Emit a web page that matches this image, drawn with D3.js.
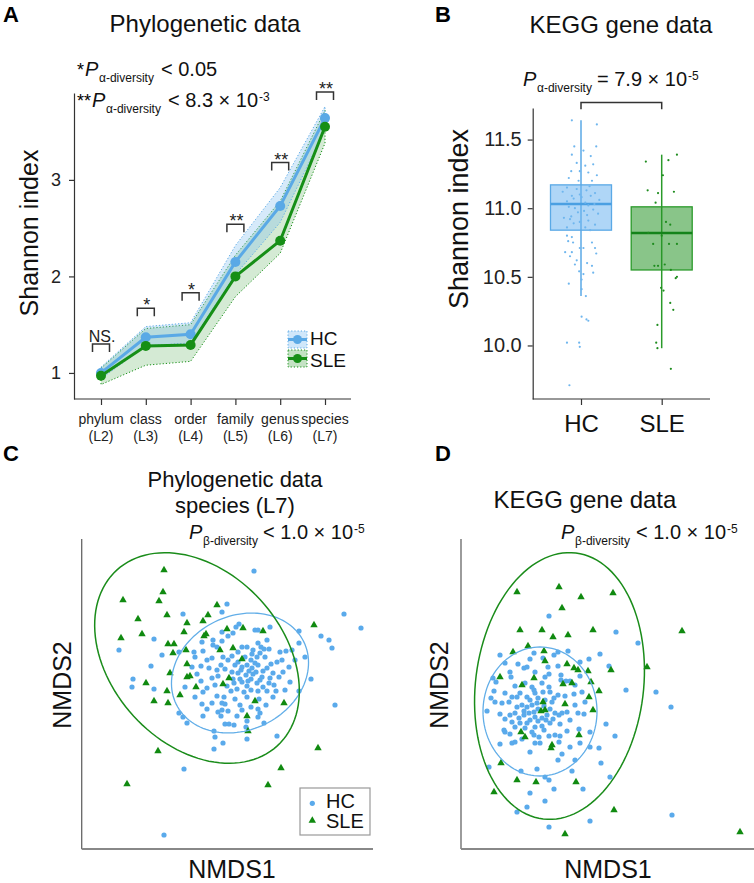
<!DOCTYPE html>
<html>
<head>
<meta charset="utf-8">
<script src="https://cdn.jsdelivr.net/npm/d3@7"></script>
<style>
body { margin: 0; background: #fff; }
svg { font-family: "Liberation Sans", Arial, sans-serif; }
</style>
</head>
<body>
<svg id="fig" width="754" height="883"></svg>
<script>
// ---- panel A : alpha diversity by taxonomic level
var levels = ["phylum", "class", "order", "family", "genus", "species"];
var levelCodes = ["(L2)", "(L3)", "(L4)", "(L5)", "(L6)", "(L7)"];
var hcMean = [1.00, 1.37, 1.40, 2.15, 2.73, 3.64];
var sleMean = [0.97, 1.28, 1.29, 2.00, 2.37, 3.55];
var hcLow = [0.94, 1.28, 1.31, 2.02, 2.56, 3.52];
var hcHigh = [1.06, 1.48, 1.52, 2.32, 2.92, 3.76];
var sleLow = [0.88, 1.08, 1.12, 1.79, 2.24, 3.38];
var sleHigh = [1.05, 1.46, 1.50, 2.22, 2.78, 3.72];
var sigLabels = ["NS.", "*", "*", "**", "**", "**"];
var sigTop = [1.30, 1.67, 1.83, 2.54, 3.18, 3.91];

// ---- panel B : KEGG shannon box plot
var boxGroups = ["HC", "SLE"];
var boxQ1 = [10.84, 10.55];
var boxMed = [11.03, 10.82];
var boxQ3 = [11.17, 11.01];
var whiskLo = [10.36, 9.98];
var whiskHi = [11.64, 11.39];
// [shannon, jitter offset as share of box width]
var hcKegg = [[11.64,-0.15],[11.61,0.26],[11.45,-0.11],[11.42,0.04],[11.45,0.25],[11.39,-0.15],[11.38,0.16],[11.33,-0.07],
  [11.31,0.07],[11.32,0.20],[11.27,-0.16],[11.27,-0.02],[11.26,0.12],[11.22,-0.20],[11.24,0.26],[11.20,-0.04],[11.20,0.18],
  [11.15,-0.23],[11.14,-0.07],[11.13,0.09],[11.11,0.23],[11.09,-0.15],[11.08,0.01],[11.09,0.16],[11.05,-0.23],[11.04,0.07],
  [11.00,-0.10],[10.99,0.20],[10.92,-0.18],[10.90,-0.02],[10.91,0.12],[10.88,0.23],[10.86,-0.23],[10.86,0.07],[10.80,-0.23],
  [10.79,-0.15],[10.76,-0.21],[10.75,0.18],[10.75,-0.13],[10.71,-0.02],[10.71,0.04],[10.71,0.23],[10.68,-0.26],[10.68,-0.15],
  [10.67,0.25],[10.65,-0.18],[10.62,-0.07],[10.60,0.10],[10.59,-0.10],[10.58,0.18],[10.54,-0.03],[10.53,0.20],[10.52,0.04],
  [10.48,0.01],[10.45,-0.20],[10.41,0.01],[10.36,0.08],[10.21,0.01],[10.19,0.09],[10.18,0.12],[10.02,-0.23],[10.02,-0.03],
  [9.99,-0.02],[9.71,-0.19],[11.12,-0.30],[11.06,0.30],[10.97,-0.05],[10.95,0.10],[10.93,-0.28],[10.96,0.28],[11.02,0.12],
  [11.10,-0.02],[10.89,-0.12],[10.84,0.15],[11.16,0.14],[11.01,-0.20],[11.07,-0.12],[10.98,0.05],[10.94,-0.16],[11.03,0.22]];
var sleKegg = [[11.34,-0.26],[11.35,0.11],[11.39,0.25],[11.24,0.02],[11.13,-0.23],[11.11,-0.06],[11.12,0.20],[11.04,-0.10],
  [10.90,0.07],[10.88,0.14],[10.82,-0.22],[10.80,0.00],[10.74,-0.14],[10.74,0.12],[10.74,0.25],[10.58,-0.06],[10.58,-0.12],
  [10.59,0.05],[10.55,0.15],[10.50,0.25],[10.49,0.23],[10.42,-0.01],[10.40,0.03],[10.31,0.14],[10.26,0.19],[10.15,-0.07],
  [10.02,-0.09],[9.98,-0.07],[9.83,0.15]];

// ---- panel C : NMDS species (L7)  [NMDS1, NMDS2]
var hcC = [[0.27,1.21],[0.00,0.88],[-0.05,0.80],[-0.44,0.78],[1.17,0.78],[1.34,0.64],[-0.73,0.53],[-1.08,0.42],[-0.65,0.37],
  [-0.76,0.26],[-0.94,0.13],[-0.95,0.05],[-0.73,0.03],[0.94,0.56],[1.02,0.52],[1.05,0.44],[0.72,0.61],[0.43,0.65],[0.28,0.62],
  [0.31,0.62],[0.12,0.68],[0.09,0.65],[0.06,0.59],[0.01,0.56],[0.40,0.52],[0.31,0.49],[0.72,0.49],[0.53,0.40],[0.59,0.41],
  [0.78,0.35],[0.68,0.32],[0.62,0.25],[0.56,0.20],[0.84,0.13],[0.58,0.02],[-0.14,0.52],[-0.05,0.51],[-0.14,0.47],[-0.10,0.45],
  [-0.25,0.50],[-0.24,0.41],[-0.33,0.40],[-0.48,0.40],[-0.32,0.35],[-0.35,0.25],[-0.26,0.26],[-0.20,0.32],[-0.15,0.34],
  [-0.04,0.35],[0.01,0.32],[0.11,0.40],[0.20,0.45],[0.26,0.42],[0.34,0.45],[0.37,0.43],[0.42,0.43],[0.24,0.32],[0.30,0.35],
  [0.38,0.35],[0.08,0.27],[0.15,0.25],[0.20,0.27],[0.25,0.24],[0.31,0.27],[0.40,0.24],[0.44,0.28],[0.50,0.30],[-0.10,0.22],
  [-0.02,0.23],[0.05,0.20],[0.11,0.19],[0.19,0.17],[0.26,0.18],[0.35,0.15],[0.43,0.14],[-0.15,0.14],[-0.09,0.16],[-0.26,0.11],
  [-0.20,0.04],[-0.12,0.07],[0.07,0.09],[0.15,0.10],[0.21,0.11],[0.30,0.09],[0.42,0.09],[0.04,0.01],[0.10,0.03],[0.17,0.00],
  [0.24,0.02],[0.31,0.01],[0.40,0.01],[0.49,0.01],[-0.24,0.00],[-0.32,-0.05],[-0.03,-0.05],[-0.10,-0.04],[-0.25,-0.12],
  [-0.15,-0.11],[-0.05,-0.11],[-0.02,-0.12],[0.13,-0.13],[0.24,-0.15],[0.31,-0.17],[0.39,-0.13],[-0.09,-0.20],[-0.05,-0.18],
  [0.01,-0.19],[0.15,-0.18],[0.33,-0.21],[-0.48,-0.21],[-0.44,-0.25],[-0.40,-0.31],[-0.24,-0.24],[-0.06,-0.24],[0.31,-0.25],
  [-0.02,-0.32],[0.02,-0.32],[0.07,-0.33],[0.19,-0.35],[0.37,-0.31],[0.20,-0.29],[-0.13,-0.39],[-0.12,-0.45],[-0.04,-0.51],
  [-0.13,-0.57],[0.20,-0.47],[0.50,-0.44],[1.08,-0.13],[0.72,0.01],[-0.43,-0.77],[-0.63,-1.43],
  [0.11,0.30],[0.18,0.35],[0.25,0.38],[0.33,0.39],[0.14,0.22],[0.22,0.21],[0.29,0.20],[0.36,0.21],[0.06,0.13],[0.13,0.13],
  [0.24,0.13],[0.33,0.12],[0.46,0.19],[0.52,0.15],[0.47,0.07],[0.36,0.05],[0.20,0.06],[0.00,0.06],[-0.06,0.27],[-0.18,0.24],
  [0.05,0.36],[0.15,0.45],[0.28,0.29],[0.55,0.32],[0.63,0.10],[-0.30,0.18],[-0.42,0.05],[0.08,-0.07],[0.20,-0.05],
  [0.32,-0.07],[-0.20,-0.17],[0.10,-0.24],[0.46,-0.05],[0.65,0.42],[-0.05,0.60]];
var sleC = [[-0.63,1.22],[-0.64,1.00],[-1.04,0.92],[-0.68,0.91],[-0.10,0.87],[-0.60,0.77],[-0.19,0.77],[-0.89,0.73],
  [-0.40,0.69],[-0.24,0.71],[-0.43,0.60],[-0.85,0.58],[0.00,0.63],[0.16,0.64],[0.36,0.61],[0.87,0.67],[-1.06,0.54],
  [-0.21,0.58],[-0.23,0.56],[-0.59,0.48],[-0.53,0.48],[-0.41,0.42],[-0.54,0.39],[-0.07,0.42],[0.06,0.44],[0.15,0.33],
  [-0.40,0.28],[-0.57,0.19],[-0.40,0.15],[-0.37,0.16],[0.02,0.14],[-0.81,0.09],[-0.31,0.05],[-0.04,0.08],[-0.60,0.01],
  [-0.47,-0.03],[-0.73,-0.09],[-0.59,-0.11],[0.28,-0.09],[0.57,-0.11],[0.20,-0.24],[0.21,-0.39],[-0.69,-0.59],[0.91,-0.56],
  [0.54,-0.76],[-1.00,-0.92],[0.41,-0.93]];
// ellipse: [centre NMDS1, centre NMDS2, semi-major, semi-minor, angle deg]
var ellHcC = [0.13, 0.19, 0.71, 0.57, 26];
var ellSleC = [-0.30, 0.34, 1.19, 0.86, -47.6];

// ---- panel D : NMDS KEGG genes
var hcD = [[-0.51,0.76],[0.16,0.60],[0.38,0.49],[0.56,0.00],[0.26,0.02],[-1.00,0.37],[-0.95,0.29],[-0.82,0.28],[-0.76,0.24],
  [-0.73,0.25],[-0.70,0.33],[-0.66,0.39],[-0.57,0.34],[-0.52,0.25],[-0.46,0.37],[-0.42,0.40],[-0.32,0.41],[-0.42,0.26],
  [-0.11,0.33],[0.00,0.38],[0.09,0.26],[-0.39,0.17],[-0.55,0.15],[-0.51,0.18],[-0.89,0.15],[-1.07,0.14],[-1.04,0.10],
  [-0.85,0.06],[-0.75,0.09],[-0.68,0.05],[-0.58,0.09],[-0.51,0.05],[-0.39,0.12],[-0.34,0.11],[-0.30,0.11],[-0.25,0.07],
  [-0.18,0.00],[-1.06,0.01],[-0.95,-0.01],[-0.80,-0.01],[-0.66,0.02],[-0.65,-0.01],[-0.57,0.00],[-0.50,0.00],[-0.42,-0.03],
  [-0.26,-0.02],[-0.88,-0.05],[-0.83,-0.05],[-0.73,-0.05],[-1.09,-0.06],[-1.13,-0.19],[-1.05,-0.10],[-0.98,-0.11],
  [-0.91,-0.10],[-0.83,-0.15],[-0.78,-0.13],[-0.73,-0.15],[-0.68,-0.13],[-0.63,-0.11],[-0.90,-0.23],[-0.85,-0.21],
  [-0.81,-0.26],[-0.76,-0.23],[-0.71,-0.21],[-0.66,-0.20],[-0.65,-0.25],[-0.58,-0.26],[-0.53,-0.23],[-0.50,-0.31],
  [-0.45,-0.21],[-0.41,-0.23],[-0.38,-0.21],[-0.33,-0.20],[-0.25,-0.13],[-0.22,-0.21],[-0.16,-0.22],[-0.95,-0.27],
  [-0.88,-0.30],[-0.80,-0.31],[-0.73,-0.31],[-0.65,-0.35],[-0.58,-0.34],[-0.56,-0.38],[-0.96,-0.38],[-0.95,-0.40],
  [-0.68,-0.40],[-0.66,-0.43],[-0.61,-0.45],[-0.51,-0.44],[-0.45,-0.43],[-0.40,-0.44],[-0.33,-0.39],[-0.21,-0.37],
  [-0.10,-0.40],[0.06,-0.32],[0.15,-0.44],[-0.88,-0.51],[-0.85,-0.50],[-0.65,-0.51],[-0.60,-0.51],[-0.41,-0.50],
  [-0.20,-0.51],[-0.10,-0.55],[-0.01,-0.56],[-0.38,-0.62],[-0.42,-0.68],[-0.25,-0.68],[0.01,-0.71],[-1.11,-0.75],
  [-0.79,-0.79],[-0.63,-0.77],[-0.28,-0.79],[-0.55,-0.85],[-0.51,-0.88],[0.10,-0.85],[-0.46,-0.97],[-0.70,-1.01],
  [-0.17,-0.97],[-0.55,-1.09],[-0.73,-1.15],[-0.83,-1.20],[-0.10,-1.29],[-0.51,-1.35],[0.71,-0.15],[0.72,-1.23],
  [-0.70,-0.08],[-0.62,-0.06],[-0.55,-0.08],[-0.48,-0.10],[-0.76,-0.19],[-0.62,-0.17],[-0.56,-0.14],[-0.50,-0.17],
  [-0.70,-0.28],[-0.62,-0.29],[-0.54,-0.28],[-0.47,-0.27],[-0.85,-0.35],[-0.75,-0.36],[-0.40,-0.32],[-0.30,-0.28],
  [-1.00,-0.22],[-0.90,-0.42],[-0.78,-0.47],[-0.46,-0.06],[-0.35,-0.04],[-0.90,0.20],[-0.65,0.20],[-0.20,0.16],
  [-0.15,-0.10],[-0.30,-0.55],[-0.70,-0.60],[-1.00,-0.52],[-0.20,0.30]];
var sleD = [[-0.83,1.00],[-0.41,1.05],[-0.19,0.95],[0.13,0.99],[-0.38,0.84],[-0.80,0.62],[-0.58,0.62],[-0.47,0.55],
  [-0.32,0.57],[-0.07,0.62],[0.82,0.61],[-0.87,0.40],[-0.72,0.46],[-0.56,0.41],[-0.55,0.31],[-0.33,0.28],[-0.26,0.24],
  [-0.22,0.22],[-0.12,0.21],[0.11,0.22],[0.47,0.25],[-1.00,0.15],[-0.66,0.14],[-0.78,0.07],[-0.37,0.08],[-0.28,0.09],
  [-0.09,0.10],[-0.01,0.01],[-0.11,-0.05],[-0.57,-0.10],[-0.59,-0.19],[-0.55,-0.18],[-0.35,-0.12],[-0.07,-0.18],
  [-0.79,-0.40],[-0.75,-0.45],[-0.21,-0.43],[-0.48,-0.53],[-0.49,-0.56],[-0.99,-0.71],[-0.83,-0.88],[-0.64,-0.90],
  [-0.24,-0.90],[-1.06,-1.00],[0.14,-1.18],[-0.35,-1.42],[1.40,-1.40]];
var ellHcD = [-0.60, -0.195, 0.645, 0.57, 90];
var ellSleD = [-0.405, 0.06, 1.34, 0.84, 83];

var BLUE = "#5aa9e6", GREEN = "#168f16", AXIS = "#333";
var svg = d3.select("#fig");

function panelLabel(txt, x, y) {
  svg.append("text").attr("x", x).attr("y", y).attr("font-size", 22).attr("font-weight", "bold").text(txt);
}
function title(txt, x, y, size) {
  return svg.append("text").attr("x", x).attr("y", y).attr("text-anchor", "middle").attr("font-size", size || 24).attr("fill", "#111").text(txt);
}
// P value line: P with subscript, then relation, optional superscript right after it
function pLine(x, y, sub, rel, relX, sup) {
  var t = svg.append("text").attr("y", y).attr("font-size", 20).attr("fill", "#111");
  t.append("tspan").attr("x", x).attr("font-style", "italic").text("P");
  t.append("tspan").attr("x", x + 14).attr("y", y + 6).attr("font-size", 12).text(sub);
  t.append("tspan").attr("x", relX).attr("y", y).text(rel);
  if (sup) t.append("tspan").attr("dx", 1).attr("y", y - 6).attr("font-size", 12).text(sup);
  return t;
}
function rotLabel(txt, x, y, size) {
  svg.append("text").attr("transform", "translate(" + x + "," + y + ") rotate(-90)")
    .attr("text-anchor", "middle").attr("font-size", size).attr("fill", "#111").text(txt);
}

// ======================= A =======================
panelLabel("A", 3, 22);
title("Phylogenetic data", 205, 32);
svg.append("text").attr("x", 77).attr("y", 76).attr("font-size", 18).text("*");
pLine(85, 76, "\u03b1-diversity", "< 0.05", 161);
svg.append("text").attr("x", 77).attr("y", 107).attr("font-size", 18).text("**");
pLine(92, 107, "\u03b1-diversity", "< 8.3 \u00d7 10", 168, "-3");

var xA = d3.scalePoint().domain(levels).range([101, 325]);
var yA = d3.scaleLinear().domain([0.73, 3.9]).range([399, 93]);

var gAy = svg.append("g").attr("transform", "translate(74,0)")
  .call(d3.axisLeft(yA).tickValues([1, 2, 3]).tickSize(5).tickPadding(8).tickSizeOuter(0).tickFormat(d3.format("d")));
gAy.selectAll("path,line").attr("stroke", AXIS).attr("stroke-width", 1.2);
gAy.selectAll("text").attr("font-size", 18).attr("fill", "#222").attr("font-family", null);
svg.append("line").attr("x1", 74).attr("x2", 351).attr("y1", 399).attr("y2", 399).attr("stroke", AXIS).attr("stroke-width", 1.2);
var gAx = svg.append("g").attr("transform", "translate(0,399)")
  .call(d3.axisBottom(xA).tickSize(6).tickFormat(""));
gAx.select(".domain").remove();
gAx.selectAll("line").attr("stroke", AXIS).attr("stroke-width", 1.2);
levels.forEach(function (lv, i) {
  var t = svg.append("text").attr("text-anchor", "middle").attr("font-size", 14).attr("fill", "#222");
  t.append("tspan").attr("x", xA(lv)).attr("y", 424).text(lv);
  t.append("tspan").attr("x", xA(lv)).attr("y", 441).text(levelCodes[i]);
});
rotLabel("Shannon index", 38, 233, 25);

function bandArea(lo, hi) {
  return d3.area().x(function (d, i) { return xA(levels[i]); })
    .y0(function (d, i) { return yA(lo[i]); }).y1(function (d, i) { return yA(hi[i]); })(levels);
}
svg.append("path").attr("d", bandArea(sleLow, sleHigh)).attr("fill", "rgba(60,160,60,0.22)")
  .attr("stroke", GREEN).attr("stroke-width", 1).attr("stroke-dasharray", "1.2,2");
svg.append("path").attr("d", bandArea(hcLow, hcHigh)).attr("fill", "rgba(120,185,240,0.30)")
  .attr("stroke", BLUE).attr("stroke-width", 1).attr("stroke-dasharray", "1.2,2");

var lineA = function (vals) {
  return d3.line().x(function (d, i) { return xA(levels[i]); }).y(function (d) { return yA(d); })(vals);
};
[[hcMean, BLUE], [sleMean, GREEN]].forEach(function (s) {
  svg.append("path").attr("d", lineA(s[0])).attr("fill", "none").attr("stroke", s[1]).attr("stroke-width", 3);
  svg.append("g").selectAll("circle").data(s[0]).join("circle")
    .attr("cx", function (d, i) { return xA(levels[i]); }).attr("cy", function (d) { return yA(d); })
    .attr("r", 5).attr("fill", s[1]);
});

levels.forEach(function (lv, i) {
  var cx = xA(lv), top = yA(sigTop[i]);
  svg.append("path").attr("d", "M" + (cx - 8.5) + "," + (top + 8) + "V" + top + "H" + (cx + 8.5) + "V" + (top + 8))
    .attr("fill", "none").attr("stroke", "#333").attr("stroke-width", 1.5);
  var ns = sigLabels[i] === "NS.";
  svg.append("text").attr("x", cx + 1).attr("y", ns ? top - 2 : top + 3).attr("text-anchor", "middle")
    .attr("font-size", ns ? 16 : 18).attr("fill", "#222").text(sigLabels[i]);
});

// legend A
[["HC", BLUE, "rgba(120,185,240,0.35)", 331, 345], ["SLE", GREEN, "rgba(60,160,60,0.3)", 350, 367]].forEach(function (k) {
  svg.append("rect").attr("x", 288).attr("y", k[3]).attr("width", 19).attr("height", 17)
    .attr("fill", k[2]).attr("stroke", k[1]).attr("stroke-width", 1).attr("stroke-dasharray", "1.2,2");
  svg.append("line").attr("x1", 288).attr("x2", 307).attr("y1", k[3] + 8.5).attr("y2", k[3] + 8.5)
    .attr("stroke", k[1]).attr("stroke-width", 3);
  svg.append("circle").attr("cx", 297.5).attr("cy", k[3] + 8.5).attr("r", 4.5).attr("fill", k[1]);
  svg.append("text").attr("x", 310).attr("y", k[4]).attr("font-size", 19).attr("fill", "#111").text(k[0]);
});

// ======================= B =======================
panelLabel("B", 435, 22);
title("KEGG gene data", 621, 33);
pLine(523, 86, "\u03b1-diversity", "= 7.9 \u00d7 10", 597, "-5");

var xB = d3.scalePoint().domain(boxGroups).range([581, 661.7]);
var yB = d3.scaleLinear().domain([9.61, 11.73]).range([399, 108]);
var boxW = 61;

var gBy = svg.append("g").attr("transform", "translate(532.7,0)")
  .call(d3.axisLeft(yB).tickValues([10, 10.5, 11, 11.5]).tickSize(5).tickPadding(6).tickSizeOuter(0).tickFormat(d3.format(".1f")));
gBy.selectAll("path,line").attr("stroke", AXIS).attr("stroke-width", 1.2);
gBy.selectAll("text").attr("font-size", 20).attr("fill", "#222").attr("font-family", null);
svg.append("line").attr("x1", 532.7).attr("x2", 710).attr("y1", 399).attr("y2", 399).attr("stroke", AXIS).attr("stroke-width", 1.2);
var gBx = svg.append("g").attr("transform", "translate(0,399)").call(d3.axisBottom(xB).tickSize(6).tickPadding(10));
gBx.select(".domain").remove();
gBx.selectAll("line").attr("stroke", AXIS).attr("stroke-width", 1.2);
gBx.selectAll("text").attr("font-size", 24).attr("fill", "#111").attr("font-family", null);
rotLabel("Shannon index", 468, 219, 27);

var boxFill = ["rgba(110,180,240,0.55)", "rgba(40,150,40,0.55)"];
var boxStroke = [BLUE, "#2a9a2a"];
boxGroups.forEach(function (g, i) {
  var cx = xB(g);
  svg.append("line").attr("x1", cx).attr("x2", cx).attr("y1", yB(whiskHi[i])).attr("y2", yB(whiskLo[i]))
    .attr("stroke", boxStroke[i]).attr("stroke-width", 1.5);
  svg.append("rect").attr("x", cx - boxW / 2).attr("width", boxW).attr("y", yB(boxQ3[i]))
    .attr("height", yB(boxQ1[i]) - yB(boxQ3[i])).attr("fill", boxFill[i]).attr("stroke", boxStroke[i]).attr("stroke-width", 1.3);
  svg.append("line").attr("x1", cx - boxW / 2).attr("x2", cx + boxW / 2).attr("y1", yB(boxMed[i])).attr("y2", yB(boxMed[i]))
    .attr("stroke", i ? "#14831a" : "#4a9fe2").attr("stroke-width", 2.5);
});
[[hcKegg, "HC", "#6fb6ee"], [sleKegg, "SLE", "#1e8c1e"]].forEach(function (s) {
  svg.append("g").selectAll("circle").data(s[0]).join("circle")
    .attr("cx", function (d) { return xB(s[1]) + d[1] * boxW; }).attr("cy", function (d) { return yB(d[0]); })
    .attr("r", 1.1).attr("fill", s[2]);
});
svg.append("path")
  .attr("d", "M" + xB("HC") + "," + yB(11.72) + "V" + yB(11.77) + "H" + xB("SLE") + "V" + yB(11.72))
  .attr("fill", "none").attr("stroke", "#333").attr("stroke-width", 1.5);

// ======================= C & D =======================
function ellipsePath(e, xs, ys) {
  var th = e[4] * Math.PI / 180, pts = d3.range(0, 361, 3).map(function (deg) {
    var t = deg * Math.PI / 180;
    var u = e[2] * Math.cos(t), v = e[3] * Math.sin(t);
    return [xs(e[0] + u * Math.cos(th) - v * Math.sin(th)), ys(e[1] + u * Math.sin(th) + v * Math.cos(th))];
  });
  return d3.line()(pts) + "Z";
}
function nmdsPanel(x0, x1, xDom, hc, sle, ellHc, ellSle) {
  var xs = d3.scaleLinear().domain(xDom).range([x0, x1]);
  var ys = d3.scaleLinear().domain([-1.57, 1.53]).range([849, 539]);
  svg.append("line").attr("x1", x0).attr("x2", x0).attr("y1", 539).attr("y2", 849).attr("stroke", "#666").attr("stroke-width", 1.3);
  svg.append("line").attr("x1", x0).attr("x2", x1).attr("y1", 849).attr("y2", 849).attr("stroke", "#888").attr("stroke-width", 1.8);
  svg.append("g").selectAll("circle").data(hc).join("circle")
    .attr("cx", function (d) { return xs(d[0]); }).attr("cy", function (d) { return ys(d[1]); })
    .attr("r", 2.6).attr("fill", "#5aaaeb");
  svg.append("g").selectAll("path").data(sle).join("path")
    .attr("transform", function (d) { return "translate(" + xs(d[0]) + "," + ys(d[1]) + ")"; })
    .attr("d", d3.symbol(d3.symbolTriangle, 24)).attr("fill", "#108a10");
  svg.append("path").attr("d", ellipsePath(ellHc, xs, ys)).attr("fill", "none").attr("stroke", "#62aee8").attr("stroke-width", 1.3);
  svg.append("path").attr("d", ellipsePath(ellSle, xs, ys)).attr("fill", "none").attr("stroke", "#1a8c1a").attr("stroke-width", 1.5);
}

panelLabel("C", 3, 461);
title("Phylogenetic data", 235, 487, 22);
title("species (L7)", 235, 513, 22);
pLine(189, 539, "\u03b2-diversity", "< 1.0 \u00d7 10", 263, "-5");
nmdsPanel(81.7, 373, [-1.453, 1.46], hcC, sleC, ellHcC, ellSleC);
rotLabel("NMDS2", 71, 685, 25);
svg.append("text").attr("x", 232).attr("y", 878).attr("text-anchor", "middle").attr("font-size", 25).attr("fill", "#111").text("NMDS1");

// legend C
svg.append("rect").attr("x", 300).attr("y", 788).attr("width", 70).attr("height", 47)
  .attr("fill", "#fff").attr("stroke", "#999").attr("stroke-width", 1.2);
svg.append("circle").attr("cx", 312.3).attr("cy", 803.3).attr("r", 2.6).attr("fill", "#5aaaeb");
svg.append("path").attr("transform", "translate(312.3,820.5)").attr("d", d3.symbol(d3.symbolTriangle, 24)).attr("fill", "#108a10");
svg.append("text").attr("x", 326).attr("y", 808).attr("font-size", 20).attr("fill", "#111").text("HC");
svg.append("text").attr("x", 326).attr("y", 828).attr("font-size", 20).attr("fill", "#111").text("SLE");

panelLabel("D", 435, 461);
title("KEGG gene data", 585, 508);
pLine(561, 539, "\u03b2-diversity", "< 1.0 \u00d7 10", 636, "-5");
nmdsPanel(461, 754, [-1.39, 1.54], hcD, sleD, ellHcD, ellSleD);
rotLabel("NMDS2", 448, 685, 25);
svg.append("text").attr("x", 608).attr("y", 878).attr("text-anchor", "middle").attr("font-size", 25).attr("fill", "#111").text("NMDS1");
</script>
</body>
</html>
